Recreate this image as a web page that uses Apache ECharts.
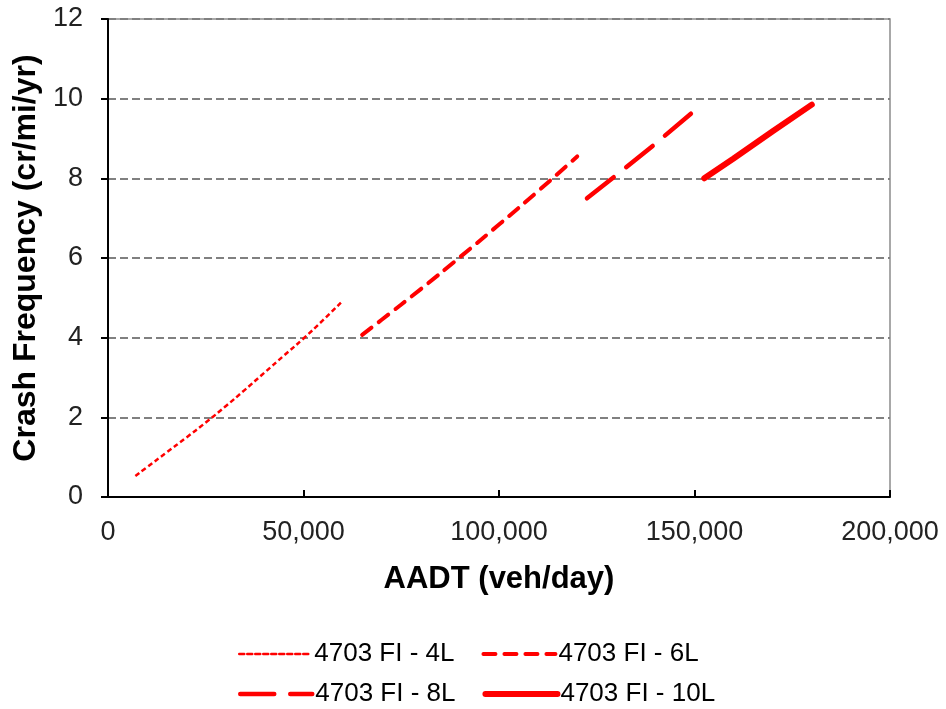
<!DOCTYPE html>
<html>
<head>
<meta charset="utf-8">
<script src="https://cdn.jsdelivr.net/npm/echarts@6/dist/echarts.min.js"></script>
<style>
  html, body { margin: 0; padding: 0; background: #fff; }
  #main { width: 946px; height: 709px; }
</style>
</head>
<body>
<div id="main"></div>
<script>
// values
var names = ['4703 FI - 4L', '4703 FI - 6L', '4703 FI - 8L', '4703 FI - 10L'];

var x4L = [7000, 10000, 15000, 20000, 25000, 30000, 35000, 40000, 45000, 50000, 55000, 60000];
var y4L = [0.53, 0.75, 1.12, 1.49, 1.87, 2.27, 2.69, 3.12, 3.55, 3.98, 4.44, 4.92];

var x6L = [65000, 70000, 80000, 90000, 100000, 110000, 120000];
var y6L = [4.07, 4.45, 5.22, 6.02, 6.84, 7.68, 8.55];

var x8L = [122500, 130000, 140000, 150000];
var y8L = [7.5, 8.08, 8.87, 9.7];

var x10L = [152500, 160000, 170000, 180000];
var y10L = [8.0, 8.5, 9.18, 9.85];

var xTicks = [0, 50000, 100000, 150000, 200000];
var yTicks = [0, 2, 4, 6, 8, 10, 12];

function pairs(xs, ys) {
  var out = [];
  for (var i = 0; i < xs.length; i++) out.push([xs[i], ys[i]]);
  return out;
}

var font = 'Liberation Sans, Arial, sans-serif';
var red = '#FF0000';

var myChart = echarts.init(document.getElementById('main'));

// legend rows share the same look
function legendRow(items, top) {
  return {
    data: items,
    left: 233, top: top,
    itemWidth: 72, itemHeight: 14, itemGap: 27,
    itemStyle: { opacity: 0 },
    lineStyle: { width: 'inherit', type: 'inherit', cap: 'round' },
    textStyle: { fontSize: 26, color: '#000', fontFamily: font, padding: [0, 0, 0, -2] }
  };
}

var option = {
  animation: false,
  backgroundColor: '#fff',
  textStyle: { fontFamily: font },
  grid: {
    left: 108, right: 56, top: 19, bottom: 212,
    show: true, borderColor: '#8c8c8c', borderWidth: 1.5
  },
  legend: [legendRow(names.slice(0, 2), 636), legendRow(names.slice(2, 4), 676)],
  xAxis: {
    type: 'value',
    min: xTicks[0], max: xTicks[xTicks.length - 1], interval: 50000,
    name: 'AADT (veh/day)',
    nameLocation: 'middle', nameGap: 67,
    nameTextStyle: { fontSize: 31, fontWeight: 'bold', color: '#000', fontFamily: font },
    axisLine: { show: true, lineStyle: { color: '#000', width: 2 } },
    axisTick: { show: true, inside: true, length: 7, lineStyle: { color: '#000', width: 2 } },
    axisLabel: {
      fontSize: 27, color: '#222', margin: 22, fontFamily: font,
      formatter: function (v) { return v.toLocaleString('en-US'); }
    },
    splitLine: { show: false }
  },
  yAxis: {
    type: 'value',
    min: yTicks[0], max: yTicks[yTicks.length - 1], interval: 2,
    name: 'Crash Frequency (cr/mi/yr)',
    nameLocation: 'middle', nameGap: 64,
    nameTextStyle: { fontSize: 32, fontWeight: 'bold', color: '#000', fontFamily: font },
    axisLine: { show: true, lineStyle: { color: '#000', width: 2 } },
    axisTick: { show: true, inside: false, length: 7, lineStyle: { color: '#000', width: 2 } },
    axisLabel: { fontSize: 27, color: '#222', margin: 25, fontFamily: font },
    splitLine: { show: true, lineStyle: { color: '#808080', width: 2, type: [8, 4] } }
  },
  series: [{
    name: names[0], type: 'line', showSymbol: false, symbol: 'none', smooth: true,
    data: pairs(x4L, y4L),
    lineStyle: { color: red, width: 2.5, type: [5, 3] },
    itemStyle: { color: red }
  }, {
    name: names[1], type: 'line', showSymbol: false, symbol: 'none', smooth: true,
    data: pairs(x6L, y6L),
    lineStyle: { color: red, width: 4, type: [12, 9], cap: 'round' },
    itemStyle: { color: red }
  }, {
    name: names[2], type: 'line', showSymbol: false, symbol: 'none',
    data: pairs(x8L, y8L),
    lineStyle: { color: red, width: 4.5, type: [34, 16], cap: 'round' },
    itemStyle: { color: red }
  }, {
    name: names[3], type: 'line', showSymbol: false, symbol: 'none',
    data: pairs(x10L, y10L),
    lineStyle: { color: red, width: 6, cap: 'round' },
    itemStyle: { color: red }
  }]
};

myChart.setOption(option);
</script>
</body>
</html>
